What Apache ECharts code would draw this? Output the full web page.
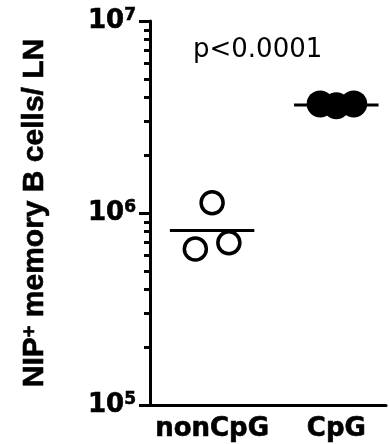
<!DOCTYPE html>
<html>
<head>
<meta charset="utf-8">
<script src="https://cdn.jsdelivr.net/npm/echarts@6/dist/echarts.min.js"></script>
<style>
html,body{margin:0;padding:0;background:#fff;}
#chart{width:389px;height:444px;}
</style>
</head>
<body>
<div id="chart"></div>
<script>
// ---- data ----
const categories = ['nonCpG', 'CpG'];
const categoryPos = [1, 3];
const nonCpGValues = [1.13e6, 6.5e5, 7.0e5];
const nonCpGJitter = [0, -0.27, 0.27];
const cpgValues = [3.70e6, 3.62e6, 3.70e6];
const cpgJitter = [-0.26, 0, 0.28];
const groupMeans = [8.1e5, 3.65e6];
const yMajorTicks = [1e5, 1e6, 1e7];
const yTickExponents = ['5', '6', '7'];
const yMinorTicks = [2e5,3e5,4e5,5e5,6e5,7e5,8e5,9e5,2e6,3e6,4e6,5e6,6e6,7e6,8e6,9e6];
const pValueText = 'p<0.0001';
const yAxisTitle = 'NIP{sup|+} memory B cells/ LN';

// ---- build ----
const meanHalfWidth = 0.68;
function pts(vals, jit, pos) { return vals.map((v, i) => [pos + jit[i], v]); }
function meanLine(i) {
  return [[categoryPos[i] - meanHalfWidth, groupMeans[i]], [categoryPos[i] + meanHalfWidth, groupMeans[i]]];
}
const heavy = {textBorderColor: '#000', textBorderWidth: 0.6};

const chart = echarts.init(document.getElementById('chart'), null, {renderer: 'canvas'});
chart.setOption({
  animation: false,
  backgroundColor: '#fff',
  title: {
    text: pValueText,
    left: 193, top: 37, padding: 0,
    textStyle: {fontFamily: 'DejaVu Sans', fontSize: 26, fontWeight: 'normal', color: '#000'}
  },
  grid: {left: 150, right: 0, top: 21, bottom: 39},
  xAxis: {
    type: 'value', min: 0, max: 3.8, interval: 1,
    axisLine: {lineStyle: {color: '#000', width: 3}},
    axisTick: {show: false},
    splitLine: {show: false},
    axisLabel: Object.assign({
      margin: 11,
      fontFamily: 'DejaVu Sans', fontWeight: 'bold', fontSize: 26, color: '#000',
      formatter: function (v) {
        const idx = categoryPos.indexOf(v);
        return idx >= 0 ? categories[idx] : '';
      }
    }, heavy)
  },
  yAxis: [{
    type: 'log', logBase: 10, min: yMajorTicks[0], max: yMajorTicks[2], interval: 1,
    axisLine: {show: true, lineStyle: {color: '#000', width: 3}},
    axisTick: {show: true, length: 11, lineStyle: {color: '#000', width: 3}},
    splitLine: {show: false},
    minorTick: {show: false},
    axisLabel: {
      margin: 14,
      fontFamily: 'DejaVu Sans', fontWeight: 'bold', fontSize: 26, color: '#000',
      formatter: function (v) {
        const idx = yMajorTicks.findIndex(t => Math.abs(Math.log10(t) - Math.log10(v)) < 1e-6);
        return idx >= 0 ? '{base|10}{sup|' + yTickExponents[idx] + '}' : '';
      },
      rich: {
        base: Object.assign({fontFamily: 'DejaVu Sans', fontWeight: 'bold', fontSize: 26, color: '#000', lineHeight: 28}, heavy),
        sup: Object.assign({fontFamily: 'DejaVu Sans', fontWeight: 'bold', fontSize: 17, color: '#000', verticalAlign: 'top', lineHeight: 17}, heavy)
      }
    },
    name: yAxisTitle,
    nameLocation: 'middle',
    nameGap: 100,
    nameTextStyle: Object.assign({
      fontFamily: 'Liberation Sans', fontWeight: 'bold', fontSize: 30, color: '#000',
      rich: {
        sup: Object.assign({fontFamily: 'Liberation Sans', fontWeight: 'bold', fontSize: 20, color: '#000', verticalAlign: 'top', lineHeight: 16}, heavy)
      }
    }, heavy)
  }, {
    type: 'log', logBase: 10, min: yMajorTicks[0], max: yMajorTicks[2],
    position: 'left',
    axisLine: {show: false},
    axisLabel: {show: false},
    splitLine: {show: false},
    axisTick: {show: true, length: 6, customValues: yMinorTicks, lineStyle: {color: '#000', width: 3}}
  }],
  series: [
    {
      type: 'scatter', name: categories[0], yAxisIndex: 0,
      data: pts(nonCpGValues, nonCpGJitter, categoryPos[0]),
      symbol: 'circle', symbolSize: 22,
      itemStyle: {color: '#fff', borderColor: '#000', borderWidth: 3.5, opacity: 1}
    },
    {
      type: 'scatter', name: categories[1], yAxisIndex: 0,
      data: pts(cpgValues, cpgJitter, categoryPos[1]),
      symbol: 'circle', symbolSize: 27,
      itemStyle: {color: '#000', opacity: 1}
    },
    {
      type: 'line', yAxisIndex: 0, data: meanLine(0), symbol: 'none',
      lineStyle: {color: '#000', width: 3}, z: 1
    },
    {
      type: 'line', yAxisIndex: 0, data: meanLine(1), symbol: 'none',
      lineStyle: {color: '#000', width: 3}, z: 1
    }
  ]
});
</script>
</body>
</html>
